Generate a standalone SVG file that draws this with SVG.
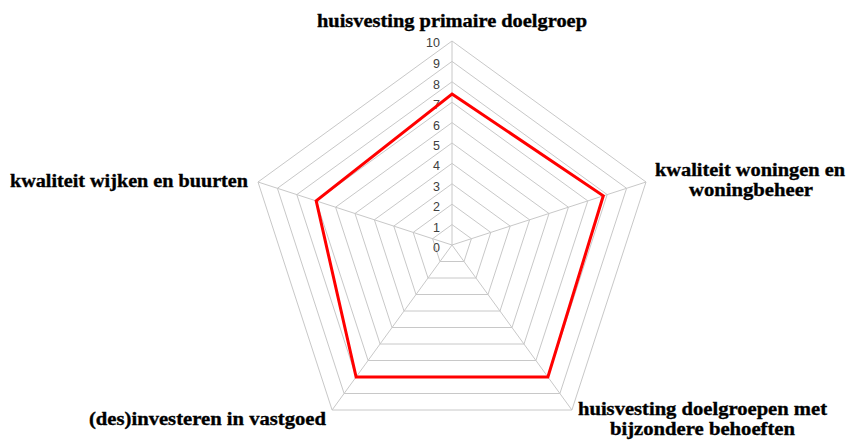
<svg xmlns="http://www.w3.org/2000/svg" width="848" height="440" viewBox="0 0 848 440">
<style>
.grid{fill:none;stroke:#c8c8c8;stroke-width:1}
.tick{font-family:"Liberation Sans",Arial,sans-serif;font-size:12.5px;fill:#404040;text-anchor:end}
.lab{font-family:"Liberation Serif","DejaVu Serif",serif;font-size:18px;font-weight:bold;fill:#000;stroke:#000;stroke-width:0.35}
.data{fill:none;stroke:#ff0000;stroke-width:3;stroke-linejoin:miter}
</style>
<rect width="848" height="440" fill="#fff"/>
<g id="grid">
<polygon class="grid" points="452,224.6 471.4,238.7 464.0,261.5 440.0,261.5 432.6,238.7"/>
<polygon class="grid" points="452,204.2 490.8,232.4 476.0,278.0 428.0,278.0 413.2,232.4"/>
<polygon class="grid" points="452,183.8 510.2,226.1 488.0,294.5 416.0,294.5 393.8,226.1"/>
<polygon class="grid" points="452,163.4 529.6,219.8 500.0,311.0 404.0,311.0 374.4,219.8"/>
<polygon class="grid" points="452,143 549.0,213.5 512.0,327.5 392.0,327.5 355.0,213.5"/>
<polygon class="grid" points="452,122.6 568.4,207.2 524.0,344.0 380.1,344.0 335.6,207.2"/>
<polygon class="grid" points="452,102.2 587.8,200.9 535.9,360.5 368.1,360.5 316.2,200.9"/>
<polygon class="grid" points="452,81.8 607.2,194.6 547.9,377.0 356.1,377.0 296.8,194.6"/>
<polygon class="grid" points="452,61.4 626.6,188.3 559.9,393.5 344.1,393.5 277.4,188.3"/>
<polygon class="grid" points="452,41 646.0,182.0 571.9,410.0 332.1,410.0 258.0,182.0"/>
</g>
<g id="spokes">
<line class="grid" x1="452" y1="245" x2="452" y2="41"/>
<line class="grid" x1="452" y1="245" x2="646" y2="182"/>
<line class="grid" x1="452" y1="245" x2="571.9" y2="410"/>
<line class="grid" x1="452" y1="245" x2="332.1" y2="410"/>
<line class="grid" x1="452" y1="245" x2="258" y2="182"/>
</g>
<g id="ticks">
<text class="tick" x="440" y="252">0</text>
<text class="tick" x="440" y="231.6">1</text>
<text class="tick" x="440" y="211.2">2</text>
<text class="tick" x="440" y="190.8">3</text>
<text class="tick" x="440" y="170.4">4</text>
<text class="tick" x="440" y="150">5</text>
<text class="tick" x="440" y="129.6">6</text>
<text class="tick" x="440" y="109.2">7</text>
<text class="tick" x="440" y="88.8">8</text>
<text class="tick" x="440" y="68.4">9</text>
<text class="tick" x="440" y="46.5">10</text>
</g>
<g id="series">
<polygon class="data" points="452,94 603.3,195.8 547.9,377 356.1,377 316.2,200.9"/>
</g>
<g id="label-top">
<text class="lab" x="317" y="27" textLength="270" lengthAdjust="spacingAndGlyphs">huisvesting primaire doelgroep</text>
</g>
<g id="label-right">
<text class="lab" x="655" y="176" textLength="190" lengthAdjust="spacingAndGlyphs">kwaliteit woningen en</text>
<text class="lab" x="689" y="196" textLength="124" lengthAdjust="spacingAndGlyphs">woningbeheer</text>
</g>
<g id="label-bottom-right">
<text class="lab" x="578" y="415" textLength="249" lengthAdjust="spacingAndGlyphs">huisvesting doelgroepen met</text>
<text class="lab" x="610" y="435" textLength="185" lengthAdjust="spacingAndGlyphs">bijzondere behoeften</text>
</g>
<g id="label-bottom-left">
<text class="lab" x="89" y="425" textLength="237" lengthAdjust="spacingAndGlyphs">(des)investeren in vastgoed</text>
</g>
<g id="label-left">
<text class="lab" x="10" y="187" textLength="238" lengthAdjust="spacingAndGlyphs">kwaliteit wijken en buurten</text>
</g>
</svg>
